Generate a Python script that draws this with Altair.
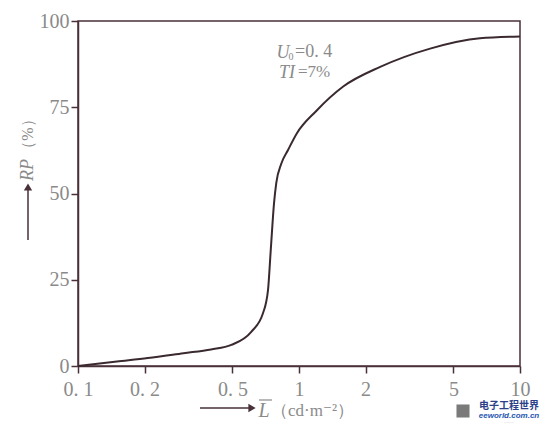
import altair as alt
import pandas as pd

# Curve values
lum = [0.1, 0.15, 0.207, 0.3, 0.4, 0.494, 0.608, 0.687, 0.724, 0.745, 0.771, 0.789,
       0.832, 0.892, 0.977, 1.2, 1.585, 2.33, 3.92, 6.59, 10]
rp = [0, 1.3, 2.3, 3.7, 4.8, 6.1, 9.9, 15.3, 22, 33.6, 47.2, 53,
      58.7, 62.6, 67.4, 74, 81, 86.7, 92, 95, 95.5]

x_ticks = [0.1, 0.2, 0.5, 1, 2, 5, 10]
y_ticks = [0, 25, 50, 75, 100]

df = pd.DataFrame({"L": lum, "RP": rp})

W, H = 442, 345
AXIS = "#4a3038"
LINE = "#3a2a30"
GREY = "#8a8a8a"
SERIF = "Liberation Serif, DejaVu Serif, serif"

label_expr = "datum.value==0.1?'0. 1':datum.value==0.2?'0. 2':datum.value==0.5?'0. 5':datum.label"

curve = alt.Chart(df).mark_line(color=LINE, strokeWidth=2, interpolate="monotone").encode(
    x=alt.X("L:Q", scale=alt.Scale(type="log", domain=[0.1, 10]),
            axis=alt.Axis(values=x_ticks, labelExpr=label_expr, title=None, grid=False,
                          domainColor=AXIS, domainWidth=1.5, tickColor=AXIS, tickWidth=1.5,
                          tickSize=7, labelColor=GREY, labelFont=SERIF, labelFontSize=20,
                          labelPadding=6, labelFlush=False)),
    y=alt.Y("RP:Q", scale=alt.Scale(domain=[0, 100]),
            axis=alt.Axis(values=y_ticks, title=None, grid=False,
                          domainColor=AXIS, domainWidth=1.5, tickColor=AXIS, tickWidth=1.5,
                          tickSize=7, labelColor=GREY, labelFont=SERIF, labelFontSize=20,
                          labelPadding=2, labelBaseline="middle")),
)

def txt(s, x, y, size=17, style="normal", color=GREY, angle=0, font=SERIF, weight="normal", align="center"):
    return alt.Chart(pd.DataFrame({"t": [s]})).mark_text(
        font=font, fontSize=size, fontStyle=style, color=color, angle=angle,
        fontWeight=weight, align=align, baseline="middle"
    ).encode(x=alt.value(x), y=alt.value(y), text="t:N")

# Annotations
ann = [
    txt("U", 205, 32, size=18, style="italic", align="center"),
    txt("0", 213, 36, size=10, align="center"),
    txt("=0. 4", 217, 31, size=18, align="left"),
    txt("TI", 209, 52, size=18, style="italic", align="center"),
    txt("=7%", 220, 51, size=17, align="left"),
]

# Y title with arrow
ytitle = [
    txt("RP", -50, 149, size=18, style="italic", angle=270),
    txt("（%）", -50, 113, size=16, angle=270),
    alt.Chart(pd.DataFrame({"a": [0]})).mark_rule(color=AXIS, strokeWidth=1.5).encode(
        x=alt.value(-50), y=alt.value(219), y2=alt.value(168)),
    alt.Chart(pd.DataFrame({"a": [0]})).mark_point(shape="triangle-up", filled=True, color=AXIS,
                                                   size=70, opacity=1).encode(
        x=alt.value(-50), y=alt.value(166)),
]

# X title with arrow
xtitle = [
    alt.Chart(pd.DataFrame({"a": [0]})).mark_rule(color=AXIS, strokeWidth=1.5).encode(
        x=alt.value(122), x2=alt.value(172), y=alt.value(387)),
    alt.Chart(pd.DataFrame({"a": [0]})).mark_point(shape="triangle-right", filled=True, color=AXIS,
                                                   size=70, opacity=1).encode(
        x=alt.value(174), y=alt.value(387)),
    txt("L", 186, 390, size=20, style="italic"),
    alt.Chart(pd.DataFrame({"a": [0]})).mark_rule(color=GREY, strokeWidth=1.2).encode(
        x=alt.value(181), x2=alt.value(194), y=alt.value(379)),
    txt("（cd·m⁻²）", 193, 390, size=17, align="left"),
]

# Watermark
wm = [
    alt.Chart(pd.DataFrame({"a": [0]})).mark_point(shape="square", filled=True, color="#7a7a7a",
                                                   size=170, opacity=1).encode(
        x=alt.value(385), y=alt.value(390)),
    txt("电子工程世界", 431, 385, size=10, color="#2b3f8a", font="Noto Sans CJK SC", weight="bold"),
    txt("eeworld.com.cn", 431, 395, size=8, color="#1f56b0", style="italic", font="Liberation Sans", weight="bold"),
    txt("········", 431, 402, size=4, color="#aaaaaa", font="DejaVu Sans"),
]

chart = alt.layer(curve, *ann, *ytitle, *xtitle, *wm).properties(
    width=W, height=H,
    autosize=alt.AutoSizeParams(type="none"),
    padding={"left": 70, "top": 13, "right": 24, "bottom": 61},
    background="white",
).configure_view(stroke=AXIS, strokeWidth=1.5)

chart.save("out.html", embed_options={"renderer": "svg", "actions": False})
